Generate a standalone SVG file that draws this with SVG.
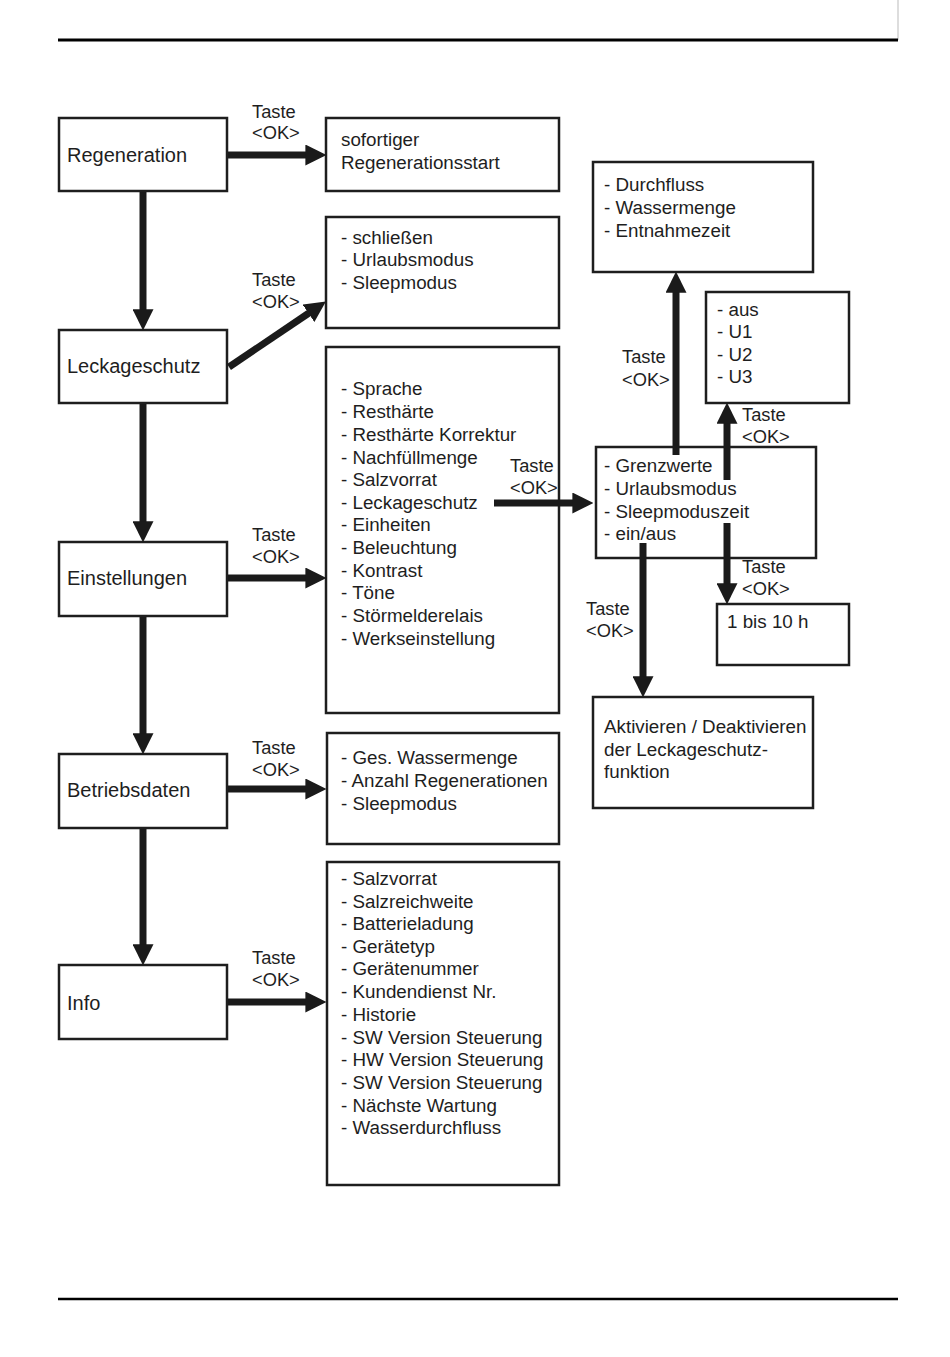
<svg xmlns="http://www.w3.org/2000/svg" width="950" height="1357" viewBox="0 0 950 1357">
<style>
.box{fill:none;stroke:#1e1e1e;stroke-width:2.5}
.t{font-family:"Liberation Sans",Arial,sans-serif;font-size:18.8px;fill:#1e1e1e}
.big{font-size:20px}
.k{font-family:"Liberation Sans",Arial,sans-serif;font-size:18.3px;fill:#1e1e1e}
.a{stroke:#1a1a1a;stroke-width:7;fill:none;marker-end:url(#ah)}
</style>
<defs>
<marker id="ah" viewBox="0 0 10 10" refX="0.3" refY="5" markerWidth="3" markerHeight="3" orient="auto" markerUnits="strokeWidth">
<path d="M0,0 L10,5 L0,10 z" fill="#1a1a1a"/>
</marker>
</defs>
<rect width="950" height="1357" fill="#fff"/>
<line x1="898" y1="0" x2="898" y2="40" stroke="#bbb" stroke-width="1"/>
<line x1="58" y1="40" x2="898" y2="40" stroke="#000" stroke-width="3"/>
<line x1="58" y1="1299" x2="898" y2="1299" stroke="#000" stroke-width="2.5"/>

<g id="regeneration"><rect class="box" x="59" y="118" width="168" height="73"/><text class="t big" x="67" y="162">Regeneration</text></g>
<g id="leckageschutz"><rect class="box" x="59" y="330" width="168" height="73"/><text class="t big" x="67" y="373">Leckageschutz</text></g>
<g id="einstellungen"><rect class="box" x="59" y="542" width="168" height="74"/><text class="t big" x="67" y="585">Einstellungen</text></g>
<g id="betriebsdaten"><rect class="box" x="59" y="754" width="168" height="74"/><text class="t big" x="67" y="797">Betriebsdaten</text></g>
<g id="info"><rect class="box" x="59" y="965" width="168" height="74"/><text class="t big" x="67" y="1010">Info</text></g>

<g id="regstart"><rect class="box" x="326" y="118" width="233" height="73"/>
<text class="t" x="341" y="146">sofortiger</text><text class="t" x="341" y="169">Regenerationsstart</text></g>

<g id="leck-list"><rect class="box" x="326" y="217" width="233" height="111"/>
<text class="t" x="341" y="244">- schließen</text><text class="t" x="341" y="266">- Urlaubsmodus</text><text class="t" x="341" y="289">- Sleepmodus</text></g>

<g id="einst-list"><rect class="box" x="326" y="347" width="233" height="366"/>
<g class="t">
<text x="341" y="395">- Sprache</text>
<text x="341" y="418">- Resthärte</text>
<text x="341" y="441">- Resthärte Korrektur</text>
<text x="341" y="464">- Nachfüllmenge</text>
<text x="341" y="486">- Salzvorrat</text>
<text x="341" y="509">- Leckageschutz</text>
<text x="341" y="531">- Einheiten</text>
<text x="341" y="554">- Beleuchtung</text>
<text x="341" y="577">- Kontrast</text>
<text x="341" y="599">- Töne</text>
<text x="341" y="622">- Störmelderelais</text>
<text x="341" y="645">- Werkseinstellung</text>
</g></g>

<g id="betr-list"><rect class="box" x="327" y="733" width="232" height="111"/>
<text class="t" x="341" y="764">- Ges. Wassermenge</text><text class="t" x="341" y="787">- Anzahl Regenerationen</text><text class="t" x="341" y="810">- Sleepmodus</text></g>

<g id="info-list"><rect class="box" x="327" y="862" width="232" height="323"/>
<g class="t">
<text x="341" y="885">- Salzvorrat</text>
<text x="341" y="908">- Salzreichweite</text>
<text x="341" y="930">- Batterieladung</text>
<text x="341" y="953">- Gerätetyp</text>
<text x="341" y="975">- Gerätenummer</text>
<text x="341" y="998">- Kundendienst Nr.</text>
<text x="341" y="1021">- Historie</text>
<text x="341" y="1044">- SW Version Steuerung</text>
<text x="341" y="1066">- HW Version Steuerung</text>
<text x="341" y="1089">- SW Version Steuerung</text>
<text x="341" y="1112">- Nächste Wartung</text>
<text x="341" y="1134">- Wasserdurchfluss</text>
</g></g>

<g id="durchfluss"><rect class="box" x="593" y="162" width="220" height="110"/>
<text class="t" x="604" y="191">- Durchfluss</text><text class="t" x="604" y="214">- Wassermenge</text><text class="t" x="604" y="237">- Entnahmezeit</text></g>

<g id="aus"><rect class="box" x="706" y="292" width="143" height="111"/>
<text class="t" x="717" y="316">- aus</text><text class="t" x="717" y="338">- U1</text><text class="t" x="717" y="361">- U2</text><text class="t" x="717" y="383">- U3</text></g>

<g id="grenzwerte"><rect class="box" x="596" y="447" width="220" height="111"/>
<text class="t" x="604" y="472">- Grenzwerte</text><text class="t" x="604" y="495">- Urlaubsmodus</text><text class="t" x="604" y="518">- Sleepmoduszeit</text><text class="t" x="604" y="540">- ein/aus</text></g>

<g id="stunden"><rect class="box" x="717" y="604" width="132" height="61"/>
<text class="t" x="727" y="628">1 bis 10 h</text></g>

<g id="aktivieren"><rect class="box" x="593" y="697" width="220" height="111"/>
<text class="t" x="604" y="733">Aktivieren / Deaktivieren</text><text class="t" x="604" y="756">der Leckageschutz-</text><text class="t" x="604" y="778">funktion</text></g>

<g id="connectors">
<line class="a" x1="143" y1="192" x2="143" y2="310"/>
<line class="a" x1="143" y1="404" x2="143" y2="522"/>
<line class="a" x1="143" y1="617" x2="143" y2="734"/>
<line class="a" x1="143" y1="829" x2="143" y2="945"/>
<line class="a" x1="228" y1="155" x2="306" y2="155"/>
<line class="a" x1="229" y1="367" x2="309" y2="313"/>
<line class="a" x1="228" y1="578" x2="306" y2="578"/>
<line class="a" x1="228" y1="789" x2="306" y2="789"/>
<line class="a" x1="228" y1="1002" x2="306" y2="1002"/>
<line class="a" x1="494" y1="503" x2="573" y2="503"/>
<line class="a" x1="676" y1="455" x2="676" y2="292"/>
<line class="a" x1="727" y1="480" x2="727" y2="423"/>
<line class="a" x1="727" y1="523" x2="727" y2="584"/>
<line class="a" x1="643" y1="543" x2="643" y2="677"/>
<g class="k">
<text x="252" y="118">Taste</text><text x="252" y="139">&lt;OK&gt;</text>
<text x="252" y="286">Taste</text><text x="252" y="308">&lt;OK&gt;</text>
<text x="252" y="541">Taste</text><text x="252" y="563">&lt;OK&gt;</text>
<text x="252" y="754">Taste</text><text x="252" y="776">&lt;OK&gt;</text>
<text x="252" y="964">Taste</text><text x="252" y="986">&lt;OK&gt;</text>
<text x="510" y="472">Taste</text><text x="510" y="494">&lt;OK&gt;</text>
<text x="622" y="363">Taste</text><text x="622" y="386">&lt;OK&gt;</text>
<text x="742" y="421">Taste</text><text x="742" y="443">&lt;OK&gt;</text>
<text x="742" y="573">Taste</text><text x="742" y="595">&lt;OK&gt;</text>
<text x="586" y="615">Taste</text><text x="586" y="637">&lt;OK&gt;</text>
</g>
</g>
</svg>
